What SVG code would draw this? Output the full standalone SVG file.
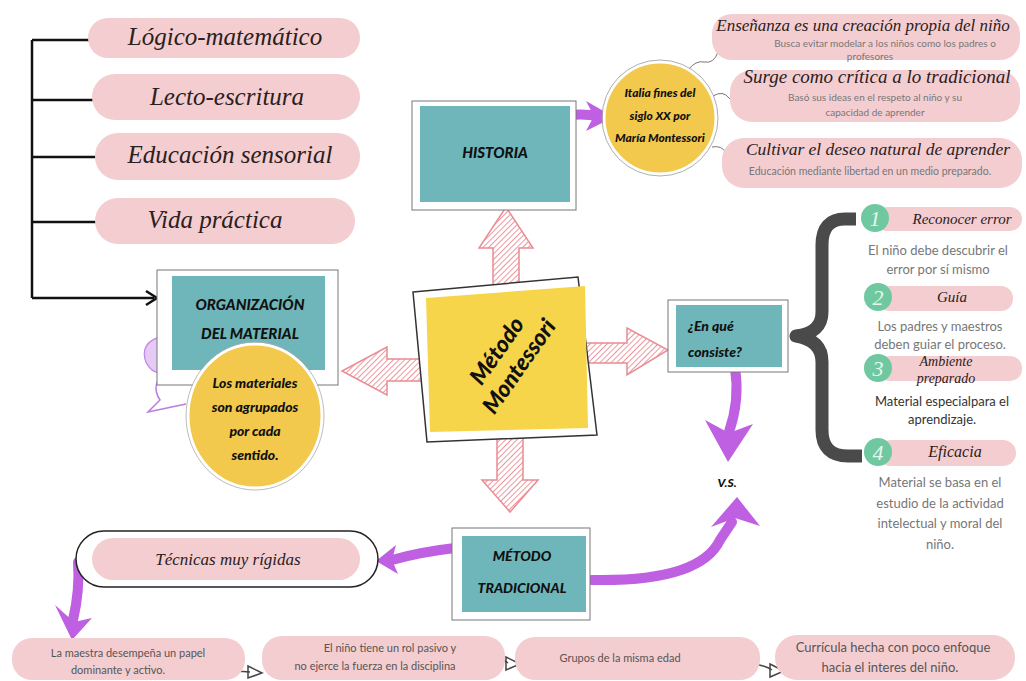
<svg xmlns="http://www.w3.org/2000/svg" width="1026" height="681" viewBox="0 0 1026 681">
<defs>
<style>
.pill{fill:#f4cdd0}
.scr{font-family:"Liberation Serif",serif;font-style:italic;fill:#2a2020;text-anchor:middle}
.hand{font-family:Lato,"DejaVu Sans",sans-serif;font-weight:900;font-style:italic;fill:#111;text-anchor:middle}
.body{font-family:Lato,"Liberation Sans",sans-serif;fill:#777;text-anchor:middle}
.frame{fill:#fff;stroke:#777;stroke-width:1}
.teal{fill:#6fb6ba}
.hatch{fill:url(#hp);stroke:#e98c93;stroke-width:1.5}
.purp{fill:none;stroke:#bf5fe2;stroke-width:10;stroke-linecap:round}
.ph{fill:#bf5fe2}
.blk{fill:none;stroke:#111;stroke-width:2.5}
.num{fill:#6fc8a0}
.numt{font-family:"Liberation Serif",serif;font-style:italic;fill:#e6f6ee;font-size:22px;text-anchor:middle}
.oa{fill:none;stroke:#444;stroke-width:1.5}
</style>
<pattern id="hp" width="4" height="4" patternUnits="userSpaceOnUse" patternTransform="rotate(45)">
<rect width="4" height="4" fill="#fff"/>
<line x1="0" y1="0" x2="0" y2="4" stroke="#ee979f" stroke-width="2"/>
</pattern>
</defs>
<rect width="1026" height="681" fill="#fff"/>

<g id="connectors">
<path class="blk" d="M32 40 V298 M32 40 H102 M32 100 H102 M32 157 H102 M32 222 H102 M32 298 H154"/>
<path d="M146 291 L157 298 L146 305" fill="none" stroke="#111" stroke-width="2.5"/>
<polygon class="hatch" points="493,292 493,248 479,248 506,207 533,248 519,248 519,292"/>
<polygon class="hatch" points="428,359 387,359 387,347 342,371 387,395 387,381 428,381"/>
<polygon class="hatch" points="585,343 627,343 627,328 668,350 627,375 627,363 585,363"/>
<polygon class="hatch" points="497,436 523,436 523,480 538,480 510,512 482,480 497,480"/>
<path class="purp" d="M550 118 Q578 112 598 116"/>
<polygon class="ph" points="586,101 614,117 586,131 594,116"/>
<path d="M688 70 q8 -10 16 -8 q10 2 14 -10 q6 -10 24 -12" fill="none" stroke="#777" stroke-width="1"/>
<path d="M713 96 q10 -6 16 2 q6 6 16 -4" fill="none" stroke="#777" stroke-width="1"/>
<path d="M712 147 q10 -2 14 6 q6 8 14 2" fill="none" stroke="#777" stroke-width="1"/>
<path class="purp" d="M735 368 Q740 400 729 432"/>
<polygon class="ph" points="705,420 729,433 753,424 728,462"/>
<path class="purp" d="M592 580 Q700 582 720 540 L732 522"/>
<polygon class="ph" points="711,527 737,497 760,526 735,518"/>
<path class="purp" d="M455 548 Q420 552 392 560"/>
<polygon class="ph" points="396,545 376,561 398,574 392,560"/>
<path class="purp" d="M78 562 Q80 590 73 620"/>
<polygon class="ph" points="55,605 72,640 92,618 74,622"/>
<path d="M856 219 H845 Q822 219 822 245 V312 Q822 333 796 336 Q822 340 822 362 V430 Q822 456 848 456 H862" fill="none" stroke="#4a4a4a" stroke-width="13" stroke-linejoin="round"/>
<path class="oa" d="M200 674 Q230 670 250 672"/>
<polygon class="oa" points="248,666 262,673 248,678" fill="#fff"/>
<path class="oa" d="M478 656 Q500 656 508 663"/>
<polygon class="oa" points="506,657 520,664 506,670" fill="#fff"/>
<path class="oa" d="M733 663 Q760 662 772 670"/>
<polygon class="oa" points="770,664 784,671 770,677" fill="#fff"/>
</g>

<g id="logico"><rect class="pill" x="88" y="18" width="272" height="40" rx="20"/><text class="scr" x="225" y="45" font-size="25">Lógico-matemático</text></g>
<g id="lecto"><rect class="pill" x="92" y="74" width="268" height="46" rx="23"/><text class="scr" x="227" y="105" font-size="25">Lecto-escritura</text></g>
<g id="educacion"><rect class="pill" x="95" y="133" width="265" height="47" rx="23"/><text class="scr" x="230" y="163" font-size="25">Educación sensorial</text></g>
<g id="vida"><rect class="pill" x="95" y="198" width="260" height="46" rx="23"/><text class="scr" x="215" y="228" font-size="25">Vida práctica</text></g>

<g id="organizacion">
<path d="M157 338 Q140 345 146 362 Q152 375 165 372 Q150 385 160 400 L148 412 L186 404" fill="none" stroke="#b77ee0" stroke-width="1.5"/>
<path d="M157 338 Q140 345 146 362 Q152 375 165 372 L172 372 L172 340 Z" fill="#dcb4f2" fill-opacity="0.7"/>
<rect class="frame" x="157" y="270" width="181" height="115"/>
<rect class="teal" x="172" y="276" width="153" height="94"/>
<text class="hand" x="250" y="310" font-size="15">ORGANIZACIÓN</text>
<text class="hand" x="250" y="339" font-size="15">DEL MATERIAL</text>
<ellipse cx="255" cy="416" rx="67" ry="72" fill="#f2c94c" stroke="#fff" stroke-width="3"/>
<ellipse cx="255" cy="416" rx="69" ry="74" fill="none" stroke="#aaa" stroke-width="0.8"/>
<text class="hand" x="255" y="388" font-size="14">Los materiales</text>
<text class="hand" x="255" y="412" font-size="14">son agrupados</text>
<text class="hand" x="255" y="436" font-size="14">por cada</text>
<text class="hand" x="255" y="460" font-size="14">sentido.</text>
</g>

<g id="montessori">
<polygon points="413,292 578,277 597,435 427,442" fill="#fff" stroke="#333" stroke-width="1.5"/>
<polygon points="426,298 585,286 588,428 430,432" fill="#f7d54b"/>
<g transform="rotate(-55 510 360)">
<text class="hand" x="510" y="352" font-size="23">Método</text>
<text class="hand" x="510" y="379" font-size="23">Montessori</text>
</g>
</g>

<g id="historia">
<rect class="frame" x="412" y="101" width="164" height="109"/>
<rect class="teal" x="420" y="106" width="150" height="96"/>
<text class="hand" x="495" y="158" font-size="15">HISTORIA</text>
</g>

<g id="italia">
<circle cx="660" cy="118" r="56" fill="#f2c94c" stroke="#fff" stroke-width="3"/>
<circle cx="660" cy="118" r="58" fill="none" stroke="#999" stroke-width="0.8"/>
<text class="hand" x="660" y="97" font-size="12">Italia fines del</text>
<text class="hand" x="660" y="120" font-size="12">siglo XX por</text>
<text class="hand" x="660" y="142" font-size="12">María Montessori</text>
</g>

<g id="ensenanza">
<rect class="pill" x="712" y="14" width="308" height="46" rx="20"/>
<text class="scr" x="863" y="31" font-size="17">Enseñanza es una creación propia del niño</text>
<text class="body" x="885" y="47" font-size="10">Busca evitar modelar a los niños como los padres o</text>
<text class="body" x="870" y="60" font-size="10">profesores</text>
</g>
<g id="surge">
<rect class="pill" x="730" y="70" width="290" height="52" rx="22"/>
<text class="scr" x="877" y="83" font-size="19">Surge como crítica a lo tradicional</text>
<text class="body" x="875" y="101" font-size="10">Basó sus ideas en el respeto al niño y su</text>
<text class="body" x="875" y="116" font-size="10">capacidad de aprender</text>
</g>
<g id="cultivar">
<rect class="pill" x="722" y="138" width="300" height="50" rx="22"/>
<text class="scr" x="878" y="155" font-size="17.5">Cultivar el deseo natural de aprender</text>
<text class="body" x="870" y="175" font-size="10.5">Educación mediante libertad en un medio preparado.</text>
</g>

<g id="consiste">
<rect class="frame" x="668" y="300" width="120" height="72"/>
<rect class="teal" x="676" y="305" width="106" height="62"/>
<text class="hand" x="688" y="331" font-size="14" style="text-anchor:start">¿En qué</text>
<text class="hand" x="688" y="357" font-size="14" style="text-anchor:start">consiste?</text>
</g>

<g id="vs"><text class="hand" x="727" y="487" font-size="12">V.S.</text></g>

<g id="item1">
<rect class="pill" x="875" y="207" width="147" height="24" rx="12"/>
<circle class="num" cx="875" cy="218" r="14"/><text class="numt" x="875" y="226">1</text>
<text class="scr" x="962" y="224" font-size="15">Reconocer error</text>
<text class="body" x="938" y="255" font-size="13">El niño debe descubrir el</text>
<text class="body" x="938" y="274" font-size="13">error por sí mismo</text>
</g>
<g id="item2">
<rect class="pill" x="878" y="286" width="135" height="25" rx="12"/>
<circle class="num" cx="878" cy="297" r="14"/><text class="numt" x="878" y="305">2</text>
<text class="scr" x="952" y="302" font-size="15">Guía</text>
<text class="body" x="940" y="331" font-size="13">Los padres y maestros</text>
<text class="body" x="940" y="349" font-size="13">deben guiar el proceso.</text>
</g>
<g id="item3">
<rect class="pill" x="878" y="356" width="144" height="25" rx="12"/>
<circle class="num" cx="878" cy="368" r="14"/><text class="numt" x="878" y="376">3</text>
<text class="scr" x="946" y="366" font-size="14">Ambiente</text>
<text class="scr" x="946" y="383" font-size="14">preparado</text>
<text class="body" x="942" y="406" font-size="13" style="fill:#333">Material especialpara el</text>
<text class="body" x="942" y="424" font-size="13" style="fill:#333">aprendizaje.</text>
</g>
<g id="item4">
<rect class="pill" x="878" y="440" width="138" height="26" rx="13"/>
<circle class="num" cx="878" cy="452" r="14"/><text class="numt" x="878" y="460">4</text>
<text class="scr" x="955" y="457" font-size="16">Eficacia</text>
<text class="body" x="940" y="487" font-size="13">Material se basa en el</text>
<text class="body" x="940" y="508" font-size="13">estudio de la actividad</text>
<text class="body" x="940" y="528" font-size="13">intelectual y moral del</text>
<text class="body" x="940" y="549" font-size="13">niño.</text>
</g>

<g id="tradicional">
<rect class="frame" x="452" y="528" width="138" height="92"/>
<rect class="teal" x="462" y="536" width="124" height="76"/>
<text class="hand" x="522" y="561" font-size="14">MÉTODO</text>
<text class="hand" x="522" y="593" font-size="14">TRADICIONAL</text>
</g>

<g id="tecnicas">
<rect x="76" y="531" width="302" height="56" rx="28" fill="#fff" stroke="#222" stroke-width="1.5"/>
<rect class="pill" x="92" y="538" width="268" height="42" rx="21"/>
<text class="scr" x="228" y="565" font-size="17">Técnicas muy rígidas</text>
</g>

<g id="maestra">
<rect class="pill" x="12" y="638" width="233" height="42" rx="20"/>
<text class="body" x="128" y="657" font-size="11" style="fill:#555">La maestra desempeña un papel</text>
<text class="body" x="118" y="674" font-size="11" style="fill:#555">dominante y activo.</text>
</g>
<g id="nino">
<rect class="pill" x="262" y="636" width="243" height="44" rx="20"/>
<text class="body" x="390" y="652" font-size="11" style="fill:#555">El niño tiene un rol pasivo y</text>
<text class="body" x="375" y="670" font-size="11" style="fill:#555">no ejerce la fuerza en la disciplina</text>
</g>
<g id="grupos">
<rect class="pill" x="515" y="637" width="245" height="43" rx="20"/>
<text class="body" x="620" y="662" font-size="11" style="fill:#555">Grupos de la misma edad</text>
</g>
<g id="curricula">
<rect class="pill" x="775" y="635" width="240" height="45" rx="22"/>
<text class="body" x="893" y="652" font-size="13" style="fill:#555">Currícula hecha con poco enfoque</text>
<text class="body" x="890" y="672" font-size="13" style="fill:#555">hacia el interes del niño.</text>
</g>
</svg>
